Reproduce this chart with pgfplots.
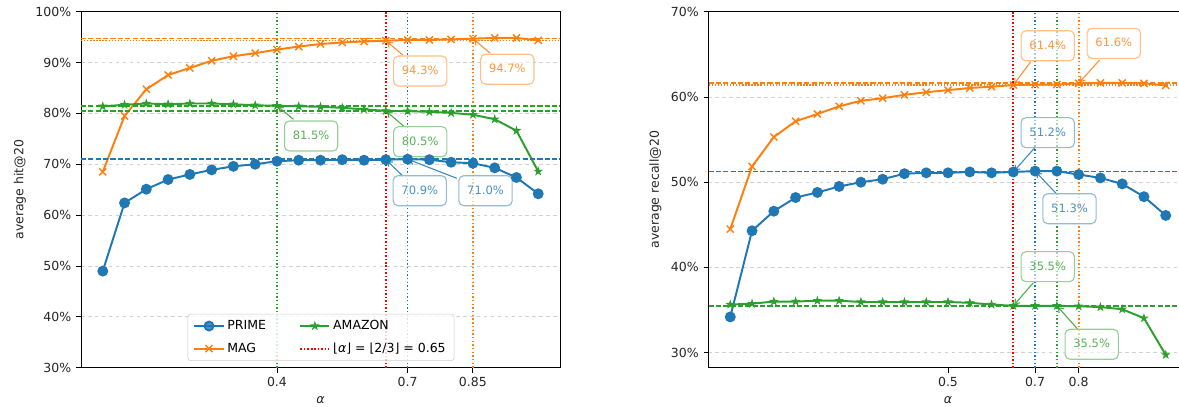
\documentclass[border=0pt]{standalone}
\usepackage{fontspec}
\setmainfont{DejaVu Sans}
\usepackage{pgfplots}
\pgfplotsset{compat=1.18}
\usetikzlibrary{arrows.meta}
\definecolor{cb}{RGB}{31,119,180}
\definecolor{co}{RGB}{255,127,14}
\definecolor{cg}{RGB}{44,160,44}
\definecolor{cr}{RGB}{255,0,0}

\pgfdeclareplotmark{fstar}{%
  \pgfpathmoveto{\pgfpointpolar{90}{\pgfplotmarksize}}%
  \pgfpathlineto{\pgfpointpolar{126}{0.38\pgfplotmarksize}}%
  \pgfpathlineto{\pgfpointpolar{162}{\pgfplotmarksize}}%
  \pgfpathlineto{\pgfpointpolar{198}{0.38\pgfplotmarksize}}%
  \pgfpathlineto{\pgfpointpolar{234}{\pgfplotmarksize}}%
  \pgfpathlineto{\pgfpointpolar{270}{0.38\pgfplotmarksize}}%
  \pgfpathlineto{\pgfpointpolar{306}{\pgfplotmarksize}}%
  \pgfpathlineto{\pgfpointpolar{342}{0.38\pgfplotmarksize}}%
  \pgfpathlineto{\pgfpointpolar{18}{\pgfplotmarksize}}%
  \pgfpathlineto{\pgfpointpolar{54}{0.38\pgfplotmarksize}}%
  \pgfpathclose
  \pgfusepathqfillstroke
}

\pgfplotstableread{
a    prime mag    amazon
0    49.0  68.5   81.4
0.05 62.4  79.5   81.7
0.10 65.1  84.75  81.95
0.15 67.0  87.55  81.8
0.20 68.0  88.95  81.95
0.25 68.9  90.35  81.95
0.30 69.6  91.25  81.8
0.35 70.0  91.85  81.6
0.40 70.6  92.55  81.5
0.45 70.8  93.15  81.4
0.50 70.8  93.65  81.3
0.55 70.9  93.95  81.1
0.60 70.8  94.15  80.8
0.65 70.9  94.3   80.5
0.70 71.0  94.45  80.45
0.75 70.9  94.45  80.3
0.80 70.4  94.55  80.1
0.85 70.2  94.7   79.75
0.90 69.3  94.85  78.85
0.95 67.4  94.85  76.6
1.00 64.2  94.35  68.6
}\hit

\pgfplotstableread{
a    prime mag    amazon
0    34.2  44.5   35.65
0.05 44.3  51.85  35.75
0.10 46.6  55.3   36.0
0.15 48.2  57.15  36.0
0.20 48.8  58.0   36.1
0.25 49.5  58.9   36.1
0.30 50.0  59.55  35.95
0.35 50.35 59.85  35.95
0.40 51.0  60.25  35.95
0.45 51.1  60.55  35.95
0.50 51.1  60.8   35.95
0.55 51.2  61.05  35.85
0.60 51.1  61.2   35.65
0.65 51.2  61.4   35.5
0.70 51.3  61.45  35.5
0.75 51.3  61.45  35.5
0.80 50.9  61.6   35.45
0.85 50.5  61.65  35.35
0.90 49.8  61.65  35.1
0.95 48.3  61.6   34.05
1.00 46.1  61.35  29.75
}\recall

\pgfplotsset{
  mystyle/.style={
    scale only axis, width=344.88pt, height=256.32pt,
    xmin=-0.05, xmax=1.05,
    tick align=outside, tick pos=left,
    major tick length=3.5pt,
    every tick/.style={black, line width=0.6pt},
    axis line style={line width=0.6pt},
    ymajorgrids, grid style={dash pattern=on 2.6pt off 2.4pt, black!18, line width=0.6pt},
    ticklabel style={font=\fontsize{9}{10}\selectfont, text=black!85},
    label style={font=\fontsize{9}{10}\selectfont, text=black!85},
    yticklabel={\pgfmathprintnumber{\tick}\%},
    xlabel={\textit{α}},
    /pgf/number format/assume math mode=true,
    legend image code/.code={\draw[mark repeat=2, mark phase=2, ##1] plot coordinates {(0pt,0pt) (10.5pt,0pt) (21pt,0pt)};},
  },
  s0/.style={color=cb, line width=1.4pt, mark=*, mark size=3.2pt, mark options={solid}},
  s1/.style={color=co, line width=1.4pt, mark=x, mark size=3.6pt, mark options={solid, line width=1pt}},
  s2/.style={color=cg, line width=1.4pt, mark=fstar, mark size=2.7pt, mark options={solid, line width=0.6pt}},
}
\tikzset{
  ann/.style={draw=#1!50!white, fill=white, fill opacity=0.6, text opacity=1, text=#1!80!white, rounded corners=3.5pt, line width=0.8pt, inner xsep=6pt, inner ysep=6pt, text height=0.74em, text depth=0.22em, font=\fontsize{8.3}{9}\selectfont},
  arr/.style={-{Straight Barb[length=3pt,width=4.5pt]}, draw=#1!85!white, line width=0.8pt, shorten >=1.2pt},
  hline/.style={color=#1, dash pattern=on 3.7pt off 1.6pt, line width=1.2pt},
  vline/.style={color=#1, dash pattern=on 1pt off 1.65pt, line width=1.3pt},
  rline/.style={color=cr, line width=1.4pt, dash pattern=on 1.1pt off 1.4pt},
  oline/.style={color=co, line width=1.1pt, dash pattern=on 1pt off 1.2pt},
}

\begin{document}
\begin{tikzpicture}
% ---------------- left ----------------
\begin{axis}[mystyle, at={(58.32pt,-264.74pt)}, anchor=south west,
  ymin=30, ymax=100, ytick={30,40,...,100},
  xtick={0.4,0.7,0.85}, xticklabels={0.4,0.7,0.85},
  ylabel={average hit@20},
  legend style={at={(0.501,0.019)}, anchor=south, legend columns=2,
    draw=black!20, rounded corners=2pt, fill=white, fill opacity=0.8, text opacity=1, draw opacity=1,
    font=\fontsize{9}{10}\selectfont, inner xsep=4pt, inner ysep=2.5pt,
    /tikz/every even column/.append style={column sep=22pt}, cells={anchor=west}, row sep=4pt},
]
\addplot[s0, forget plot] table[x=a, y=prime] {\hit};
\addplot[s1, forget plot] table[x=a, y=mag] {\hit};
\addplot[s2, forget plot] table[x=a, y=amazon] {\hit};
% horizontal reference lines
\addplot[hline=cb, forget plot] coordinates {(-0.05,71.0) (1.05,71.0)};
\addplot[hline=co, forget plot] coordinates {(-0.05,94.7) (1.05,94.7)};
\addplot[oline, forget plot] coordinates {(-0.05,94.3) (1.05,94.3)};
\addplot[hline=cg, forget plot] coordinates {(-0.05,81.5) (1.05,81.5)};
\addplot[hline=cg, forget plot] coordinates {(-0.05,80.5) (1.05,80.5)};
% vertical reference lines
\addplot[vline=cg, forget plot] coordinates {(0.4,30) (0.4,100)};
\addplot[vline=cb, forget plot] coordinates {(0.7,30) (0.7,100)};
\addplot[vline=co, forget plot] coordinates {(0.85,30) (0.85,100)};
\addplot[rline, forget plot] coordinates {(0.65,30) (0.65,100)};
% annotations
\draw[arr=co] (axis cs:0.689,91.49) -- (axis cs:0.65,94.3);
\node[ann=co] at (axis cs:0.729,88.34) {94.3\%};
\draw[arr=co] (axis cs:0.890,91.82) -- (axis cs:0.85,94.7);
\node[ann=co] at (axis cs:0.929,88.69) {94.7\%};
\draw[arr=cg] (axis cs:0.438,78.84) -- (axis cs:0.4,81.5);
\node[ann=cg] at (axis cs:0.4785,75.56) {81.5\%};
\draw[arr=cg] (axis cs:0.6906,77.53) -- (axis cs:0.65,80.5);
\node[ann=cg] at (axis cs:0.729,74.44) {80.5\%};
\draw[arr=cb] (axis cs:0.689,67.7) -- (axis cs:0.65,70.9);
\node[ann=cb] at (axis cs:0.728,64.8) {70.9\%};
\draw[arr=cb] (axis cs:0.813,67.24) -- (axis cs:0.7,71.0);
\node[ann=cb] at (axis cs:0.879,64.8) {71.0\%};
% legend
\addlegendimage{s0}\addlegendentry{PRIME}
\addlegendimage{s2}\addlegendentry{AMAZON}
\addlegendimage{s1}\addlegendentry{MAG}
\addlegendimage{rline}\addlegendentry{⌊\textit{α}⌋ = ⌊2/3⌋ = 0.65}
\end{axis}
% ---------------- right ----------------
\begin{axis}[mystyle, at={(510.12pt,-264.74pt)}, anchor=south west,
  ymin=28.24, ymax=70, ytick={30,40,...,70},
  xtick={0.5,0.7,0.8}, xticklabels={0.5,0.7,0.8},
  ylabel={average recall@20},
]
\addplot[s0, forget plot] table[x=a, y=prime] {\recall};
\addplot[s1, forget plot] table[x=a, y=mag] {\recall};
\addplot[s2, forget plot] table[x=a, y=amazon] {\recall};
\addplot[hline=cb, forget plot] coordinates {(-0.05,51.25) (1.05,51.25)};
\addplot[hline=co, forget plot] coordinates {(-0.05,61.6) (1.05,61.6)};
\addplot[oline, forget plot] coordinates {(-0.05,61.4) (1.05,61.4)};
\addplot[hline=cg, forget plot] coordinates {(-0.05,35.5) (1.05,35.5)};
\addplot[vline=cb, forget plot] coordinates {(0.7,28.24) (0.7,70)};
\addplot[vline=cg, forget plot] coordinates {(0.75,28.24) (0.75,70)};
\addplot[vline=co, forget plot] coordinates {(0.8,28.24) (0.8,70)};
\addplot[rline, forget plot] coordinates {(0.65,28.24) (0.65,70)};
\draw[arr=co] (axis cs:0.690,64.13) -- (axis cs:0.65,61.4);
\node[ann=co] at (axis cs:0.729,66.0) {61.4\%};
\draw[arr=co] (axis cs:0.848,64.33) -- (axis cs:0.8,61.6);
\node[ann=co] at (axis cs:0.8806,66.29) {61.6\%};
\draw[arr=cb] (axis cs:0.700,54.09) -- (axis cs:0.65,51.2);
\node[ann=cb] at (axis cs:0.729,55.81) {51.2\%};
\draw[arr=cb] (axis cs:0.748,48.7) -- (axis cs:0.7,51.3);
\node[ann=cb] at (axis cs:0.779,46.89) {51.3\%};
\draw[arr=cg] (axis cs:0.696,38.21) -- (axis cs:0.65,35.5);
\node[ann=cg] at (axis cs:0.729,40.09) {35.5\%};
\draw[arr=cg] (axis cs:0.798,32.75) -- (axis cs:0.75,35.5);
\node[ann=cg] at (axis cs:0.830,30.99) {35.5\%};
\end{axis}
\pgfresetboundingbox
\path[use as bounding box] (0pt,0pt) rectangle (848.88pt,-292.32pt);
\end{tikzpicture}
\end{document}
